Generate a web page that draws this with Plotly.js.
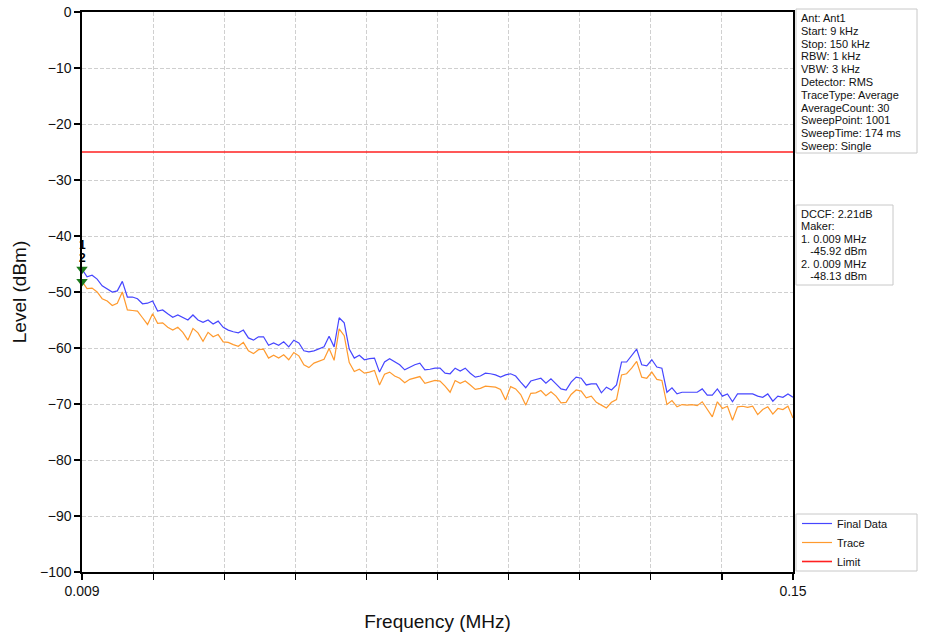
<!DOCTYPE html>
<html>
<head>
<meta charset="utf-8">
<script src="https://cdn.plot.ly/plotly-3.0.1.min.js"></script>
<style>html,body{margin:0;padding:0;background:#fff;}#chart{width:931px;height:637px;}</style>
</head>
<body>
<div id="chart"></div>
<script>
// ---- data (frequency grid: 0.009 MHz start, 0.001 MHz step, levels in dBm) ----
const freqStartMHz = 0.009;
const freqStepMHz = 0.001;

const finalData = [
-45.9,-47.3,-47.0,-47.7,-48.9,-49.5,-50.0,-49.8,-48.1,-50.9,
-50.9,-51.2,-52.1,-52.0,-51.6,-53.4,-53.2,-53.9,-54.5,-54.1,
-54.6,-55.0,-54.1,-55.0,-55.4,-55.0,-55.7,-55.2,-56.3,-56.8,
-57.1,-57.3,-56.8,-58.2,-58.6,-58.0,-58.0,-59.5,-59.1,-59.5,
-58.9,-59.8,-58.6,-59.1,-60.5,-60.7,-60.5,-60.2,-59.8,-57.9,
-59.8,-54.6,-55.5,-60.2,-61.8,-61.3,-62.1,-61.9,-61.8,-64.3,
-62.5,-61.9,-62.5,-63.0,-63.9,-63.4,-63.0,-62.7,-63.9,-63.8,
-63.6,-63.6,-64.5,-64.6,-63.6,-64.1,-63.6,-64.5,-65.2,-65.0,
-64.5,-64.6,-64.8,-65.2,-64.8,-64.6,-65.0,-66.1,-67.1,-65.9,
-65.7,-65.4,-66.3,-65.5,-66.4,-67.3,-67.5,-66.1,-65.2,-65.4,
-66.6,-66.4,-66.4,-68.0,-67.0,-67.5,-66.6,-62.5,-62.5,-61.3,
-60.2,-63.0,-63.2,-62.1,-63.4,-63.6,-67.9,-67.1,-68.2,-67.9,
-67.9,-67.9,-67.9,-67.3,-68.4,-68.4,-67.3,-68.6,-68.2,-69.6,
-68.2,-68.2,-68.2,-68.2,-68.6,-68.8,-68.2,-69.5,-68.6,-68.8,
-68.2,-68.8
];

const traceData = [
-48.1,-49.4,-49.3,-50.0,-51.2,-51.6,-52.4,-52.0,-50.0,-53.2,
-53.3,-53.4,-54.6,-55.8,-53.9,-55.6,-55.5,-56.3,-56.8,-56.3,
-57.2,-58.6,-56.5,-57.3,-58.8,-57.2,-58.0,-57.6,-58.9,-59.0,
-59.4,-59.7,-59.0,-60.5,-61.0,-60.3,-60.2,-61.8,-61.3,-61.8,
-61.2,-62.1,-60.8,-61.4,-63.0,-63.5,-62.7,-62.4,-62.0,-60.1,
-62.2,-56.6,-57.8,-62.6,-64.2,-63.8,-64.5,-64.3,-64.0,-66.6,
-64.7,-64.3,-65.0,-65.4,-66.2,-65.6,-65.3,-65.1,-66.3,-66.0,
-65.8,-65.9,-66.8,-67.9,-65.8,-66.3,-65.9,-66.6,-67.4,-67.2,
-66.8,-66.9,-67.0,-67.4,-69.3,-66.9,-67.3,-68.3,-70.2,-68.1,
-68.0,-67.6,-68.5,-67.8,-68.6,-69.8,-69.7,-68.3,-67.5,-67.7,
-68.9,-68.6,-69.7,-70.2,-70.7,-69.7,-69.2,-64.8,-64.6,-63.6,
-62.4,-65.2,-65.4,-64.3,-65.6,-65.8,-70.1,-69.4,-70.5,-70.1,
-70.2,-70.1,-70.3,-69.6,-71.0,-72.3,-69.6,-70.8,-70.4,-72.9,
-70.5,-70.4,-70.6,-70.4,-71.9,-71.0,-70.5,-71.8,-70.8,-71.0,
-70.4,-72.5
];

const limitFreq = [0.009, 0.15];
const limitLevel = [-25, -25];

const markerFreq = [0.009, 0.009];
const markerLevel = [-45.92, -48.13];
const markerLabels = ['1', '2'];

const xTickVals = [0.009, 0.0231, 0.0372, 0.0513, 0.0654, 0.0795, 0.0936, 0.1077, 0.1218, 0.1359, 0.15];
const xTickText = ['0.009', '', '', '', '', '', '', '', '', '', '0.15'];

const infoLines = ['Ant: Ant1', 'Start: 9 kHz', 'Stop: 150 kHz', 'RBW: 1 kHz', 'VBW: 3 kHz',
  'Detector: RMS', 'TraceType: Average', 'AverageCount: 30', 'SweepPoint: 1001',
  'SweepTime: 174 ms', 'Sweep: Single'];
const markerInfoLines = ['DCCF: 2.21dB', 'Maker:', '1. 0.009 MHz', '\u00a0\u00a0\u00a0-45.92 dBm',
  '2. 0.009 MHz', '\u00a0\u00a0\u00a0-48.13 dBm'];

// ---- layout helpers (pixel -> paper) ----
const W = 931, H = 637;
const M = {l: 82, r: 138, t: 12, b: 65};
const PW = W - M.l - M.r, PH = H - M.t - M.b;
const px = v => (v - M.l) / PW;
const py = v => (H - M.b - v) / PH;
const FONT = 'Liberation Sans, Arial, Helvetica, sans-serif';
const INFO_SIZE = 11;

const annotations = [];
infoLines.forEach((t, i) => annotations.push({
  xref: 'paper', yref: 'paper', x: px(799), y: py(18 + i * 12.8),
  xanchor: 'left', yanchor: 'middle', showarrow: false, text: t,
  font: {family: FONT, size: INFO_SIZE, color: '#111'}
}));
markerInfoLines.forEach((t, i) => annotations.push({
  xref: 'paper', yref: 'paper', x: px(799), y: py(214 + i * 12.4),
  xanchor: 'left', yanchor: 'middle', showarrow: false, text: t,
  font: {family: FONT, size: INFO_SIZE, color: '#111'}
}));
markerFreq.forEach((f, i) => annotations.push({
  x: f, y: markerLevel[i], xref: 'x', yref: 'y', showarrow: false,
  text: '<b>' + markerLabels[i] + '</b>', yshift: 24, font: {family: FONT, size: 12, color: '#000'}
}));

const boxStyle = {color: '#c8c8c8', width: 1};
const shapes = [
  {type: 'rect', xref: 'paper', yref: 'paper', x0: px(796), x1: px(917), y0: py(153), y1: py(9), line: boxStyle, layer: 'below'},
  {type: 'rect', xref: 'paper', yref: 'paper', x0: px(796), x1: px(893), y0: py(285), y1: py(205), line: boxStyle, layer: 'below'},
  {type: 'rect', xref: 'paper', yref: 'paper', x0: px(796), x1: px(917), y0: py(571), y1: py(514), line: boxStyle, layer: 'below'}
];

const traces = [
  {type: 'scatter', mode: 'lines', name: 'Final Data', x0: freqStartMHz, dx: freqStepMHz, y: finalData,
   line: {color: '#4646ff', width: 1.2}},
  {type: 'scatter', mode: 'lines', name: 'Trace', x0: freqStartMHz, dx: freqStepMHz, y: traceData,
   line: {color: '#ff9a2e', width: 1.2}},
  {type: 'scatter', mode: 'lines', name: 'Limit', x: limitFreq, y: limitLevel,
   line: {color: '#ff2020', width: 1.6}},
  {type: 'scatter', mode: 'markers', x: markerFreq, y: markerLevel, showlegend: false, cliponaxis: false,
   marker: {symbol: 'triangle-down', color: '#1c7a1c', size: 10}}
];

const layout = {
  width: W, height: H,
  margin: M,
  paper_bgcolor: '#fff', plot_bgcolor: '#fff',
  font: {family: FONT, color: '#111'},
  showlegend: true,
  legend: {x: px(797), y: py(576), xanchor: 'left', yanchor: 'bottom',
    bgcolor: 'rgba(0,0,0,0)', borderwidth: 0, font: {family: FONT, size: 11, color: '#111'},
    tracegroupgap: 0},
  xaxis: {
    range: [0.009, 0.15], tickmode: 'array', tickvals: xTickVals, ticktext: xTickText,
    showline: true, linecolor: '#000', linewidth: 1.6, mirror: true,
    ticks: 'outside', ticklen: 6, tickwidth: 1.2, tickcolor: '#000',
    showgrid: true, gridcolor: '#d0d0d0', gridwidth: 1, griddash: '4px,2px',
    zeroline: false, tickfont: {family: FONT, size: 14, color: '#111'},
    title: {text: 'Frequency (MHz)', font: {family: FONT, size: 19, color: '#111'}, standoff: 16}
  },
  yaxis: {
    range: [-100, 0], dtick: 10, tick0: 0,
    showline: true, linecolor: '#000', linewidth: 1.6, mirror: true,
    ticks: 'outside', ticklen: 6, tickwidth: 1.2, tickcolor: '#000',
    showgrid: true, gridcolor: '#cfcfcf', gridwidth: 1, griddash: '4px,2px',
    zeroline: false, tickfont: {family: FONT, size: 14, color: '#111'},
    title: {text: 'Level (dBm)', font: {family: FONT, size: 19, color: '#111'}, standoff: 8}
  },
  annotations: annotations,
  shapes: shapes
};

Plotly.newPlot('chart', traces, layout, {displayModeBar: false, staticPlot: true});
</script>
</body>
</html>
